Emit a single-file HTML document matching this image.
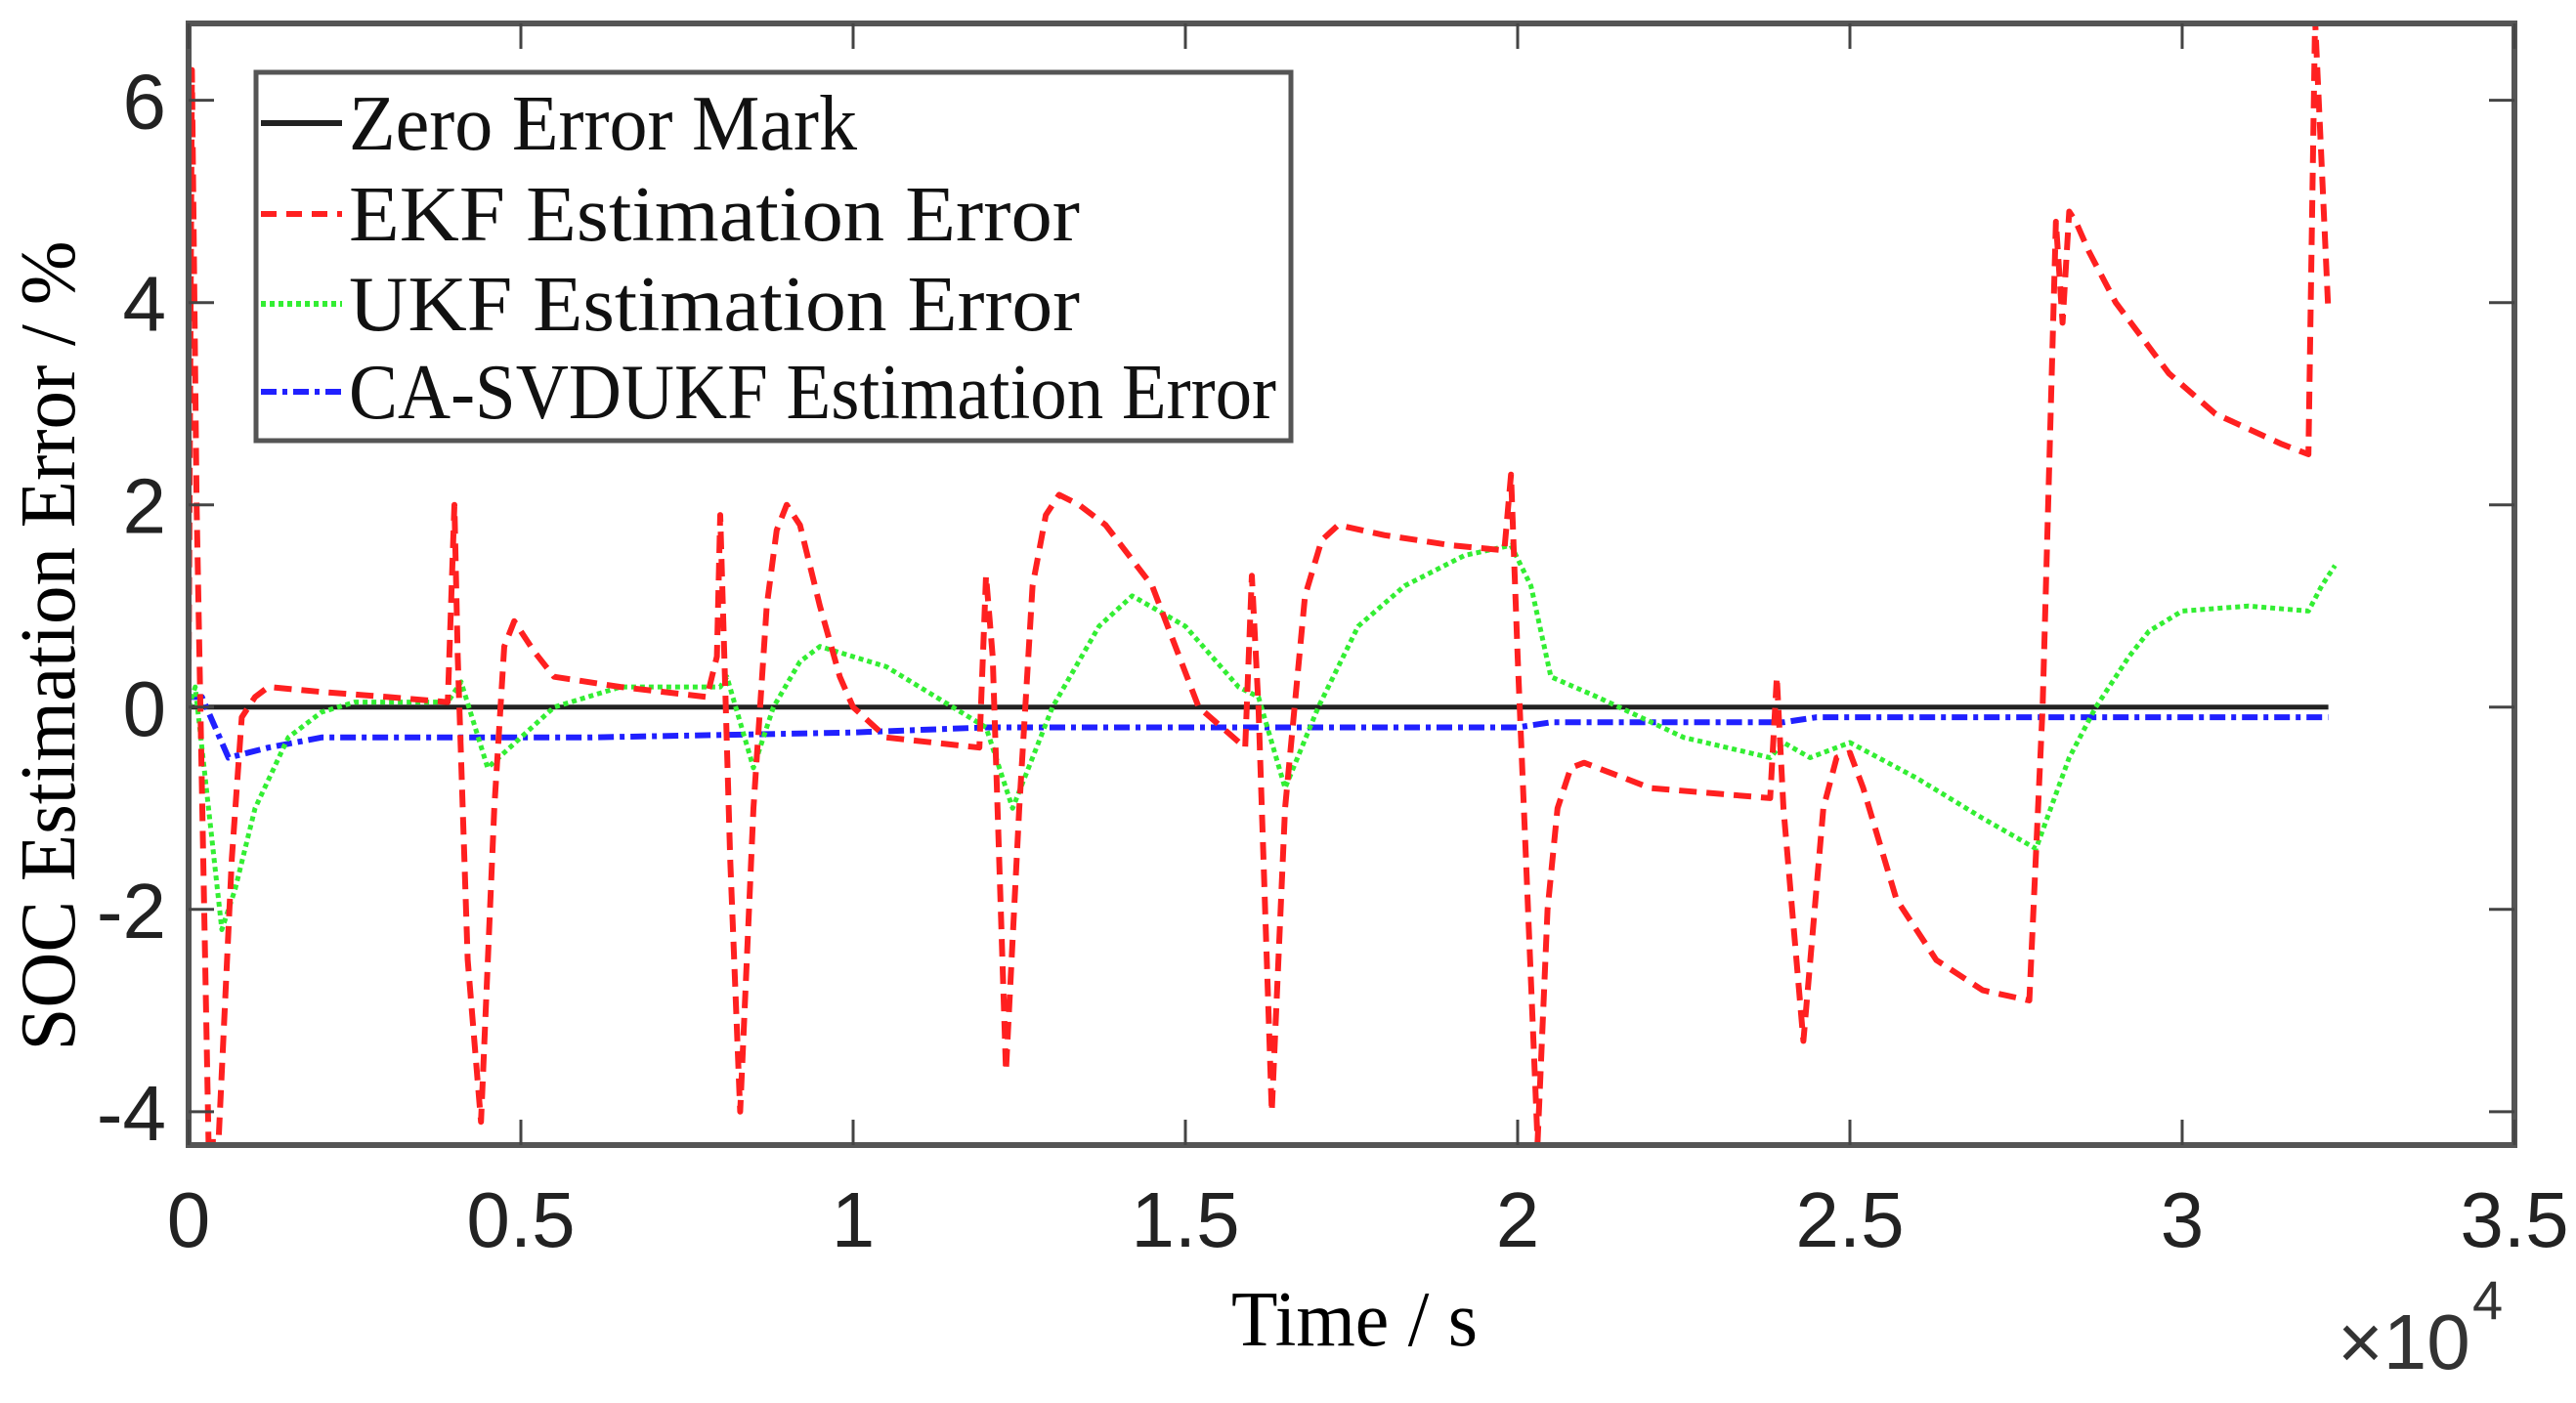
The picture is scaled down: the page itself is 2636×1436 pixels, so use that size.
<!DOCTYPE html>
<html><head><meta charset="utf-8"><style>
html,body{margin:0;padding:0;background:#fff;}
svg{display:block;}
</style></head><body>
<svg id="chart" width="2636" height="1436" viewBox="0 0 2636 1436" xmlns="http://www.w3.org/2000/svg">
<rect x="0" y="0" width="2636" height="1436" fill="#fff"/>
<g id="plot"></g>
<g id="axes"></g>
<text x="1386" y="1377" font-family="Liberation Serif, serif" font-size="80" text-anchor="middle" textLength="252" lengthAdjust="spacingAndGlyphs">Time / s</text>
<text transform="translate(76,661) rotate(-90)" font-family="Liberation Serif, serif" font-size="80" text-anchor="middle" textLength="829" lengthAdjust="spacingAndGlyphs">SOC Estimation Error / %</text>
<g>
<text x="2392" y="1401" font-family="Liberation Sans, sans-serif" font-size="80" fill="#333">×10</text>
<text x="2530" y="1350" font-family="Liberation Sans, sans-serif" font-size="56" fill="#333">4</text>
</g>
<g id="legend"></g>
</svg>
<script>
const xTicks = [0, 0.5, 1, 1.5, 2, 2.5, 3, 3.5];
const xTickLabels = ["0", "0.5", "1", "1.5", "2", "2.5", "3", "3.5"];
const yTicks = [-4, -2, 0, 2, 4, 6];
const yTickLabels = ["-4", "-2", "0", "2", "4", "6"];
const zeroX = [0, 3.22];
const zeroY = [0, 0];
const ekfX = [0,0.005,0.012,0.03,0.045,0.065,0.08,0.1,0.12,0.2,0.3,0.39,0.40,0.405,0.42,0.44,0.46,0.475,0.49,0.52,0.55,0.65,0.78,0.795,0.80,0.815,0.83,0.85,0.87,0.885,0.90,0.92,0.95,0.98,1.0,1.05,1.12,1.19,1.20,1.21,1.23,1.25,1.27,1.29,1.31,1.34,1.38,1.45,1.52,1.59,1.60,1.61,1.63,1.65,1.68,1.705,1.73,1.8,1.9,1.98,1.99,2.0,2.03,2.045,2.06,2.08,2.1,2.2,2.38,2.39,2.40,2.43,2.46,2.48,2.5,2.52,2.57,2.63,2.7,2.77,2.79,2.81,2.82,2.83,2.84,2.86,2.9,2.98,3.05,3.15,3.19,3.20,3.22];
const ekfY = [0.3,6.3,2.0,-4.3,-4.3,-1.5,-0.1,0.1,0.2,0.15,0.1,0.05,2.0,0.5,-2.5,-4.1,-1.0,0.6,0.85,0.55,0.3,0.2,0.1,0.5,1.9,-1.5,-4.0,-1.0,1.0,1.75,2.0,1.8,1.0,0.3,0,-0.3,-0.35,-0.4,1.3,0.5,-3.6,-1.0,1.2,1.9,2.1,2.0,1.8,1.2,0,-0.4,1.3,0,-4.0,-1.0,1.1,1.65,1.8,1.7,1.6,1.55,2.3,0.5,-4.3,-2.0,-1.0,-0.6,-0.55,-0.8,-0.9,0.3,-1.0,-3.3,-1.0,-0.5,-0.45,-0.8,-1.9,-2.5,-2.8,-2.9,0,4.8,3.8,4.9,4.8,4.5,4.0,3.3,2.9,2.6,2.5,6.8,3.9];
const ukfX = [0,0.01,0.03,0.05,0.07,0.1,0.15,0.2,0.25,0.39,0.41,0.45,0.5,0.55,0.65,0.8,0.81,0.85,0.88,0.92,0.95,1.05,1.15,1.2,1.24,1.3,1.37,1.42,1.5,1.58,1.61,1.65,1.7,1.76,1.83,1.92,1.99,2.02,2.05,2.12,2.25,2.38,2.4,2.44,2.5,2.6,2.7,2.78,2.83,2.87,2.92,2.95,3.0,3.1,3.19,3.21,3.23];
const ukfY = [0,0.2,-1.0,-2.2,-1.8,-1.0,-0.3,-0.05,0.05,0.05,0.25,-0.6,-0.3,0,0.2,0.2,0.3,-0.6,0,0.45,0.6,0.4,0,-0.2,-1.0,0,0.8,1.1,0.8,0.2,0.1,-0.8,0,0.8,1.2,1.5,1.6,1.2,0.3,0.1,-0.3,-0.5,-0.35,-0.5,-0.35,-0.7,-1.1,-1.4,-0.5,0,0.5,0.75,0.95,1.0,0.95,1.2,1.4];
const caX = [0,0.02,0.06,0.12,0.2,0.6,1.0,1.2,2.0,2.05,2.4,2.45,3.22];
const caY = [0.1,0.1,-0.5,-0.4,-0.3,-0.3,-0.25,-0.2,-0.2,-0.15,-0.15,-0.1,-0.1];

const L=193,R=2573,T=24,B=1172;
const xMin=0,xMax=3.5,yMin=-4.33,yMax=6.76;
const sx=v=>L+(v-xMin)/(xMax-xMin)*(R-L);
const sy=v=>B-(v-yMin)/(yMax-yMin)*(B-T);
const NS="http://www.w3.org/2000/svg";
const plot=document.getElementById('plot');
const axes=document.getElementById('axes');
const legend=document.getElementById('legend');
function mk(tag,attrs,parent){const e=document.createElementNS(NS,tag);for(const k in attrs)e.setAttribute(k,attrs[k]);parent.appendChild(e);return e;}

const defs=mk('defs',{},plot);
const cp=mk('clipPath',{id:'clip'},defs);
mk('rect',{x:L,y:T,width:R-L,height:B-T},cp);
const g=mk('g',{'clip-path':'url(#clip)'},plot);

function series(xs,ys,color,dash,w,name){
  const d=xs.map((x,i)=>(i?'L':'M')+sx(x).toFixed(1)+','+sy(ys[i]).toFixed(1)).join('');
  const p=mk('path',{d:d,fill:'none',stroke:color,'stroke-width':w,'stroke-dasharray':dash,'stroke-linejoin':'round'},g);
  
  
}
series(zeroX,zeroY,'#222','',5,'zero-error-line');
series(caX,caY,'#2020ff','16 6 5 6',6,'ca-svdukf-error-line');
series(ukfX,ukfY,'#33ee33','5 4',5,'ukf-error-line');
series(ekfX,ekfY,'#ff2020','18 10',6,'ekf-error-line');

const fr=mk('rect',{x:L,y:T,width:R-L,height:B-T,fill:'none',stroke:'#555','stroke-width':6},axes);


xTicks.forEach((t,i)=>{
  const x=sx(t);
  mk('line',{x1:x,y1:B,x2:x,y2:B-26,stroke:'#444','stroke-width':3},axes);
  mk('line',{x1:x,y1:T,x2:x,y2:T+26,stroke:'#444','stroke-width':3},axes);
  const tx=mk('text',{x:x,y:1276,'font-family':'Liberation Sans, sans-serif','font-size':80,'text-anchor':'middle',fill:'#222'},axes);
  tx.textContent=xTickLabels[i];
  
  
});
yTicks.forEach((t,i)=>{
  const y=sy(t);
  mk('line',{x1:L,y1:y,x2:L+26,y2:y,stroke:'#444','stroke-width':3},axes);
  mk('line',{x1:R,y1:y,x2:R-26,y2:y,stroke:'#444','stroke-width':3},axes);
  const tx=mk('text',{x:170,y:y+29,'font-family':'Liberation Sans, sans-serif','font-size':80,'text-anchor':'end',fill:'#222'},axes);
  tx.textContent=yTickLabels[i];
  
  
});

const lb=mk('rect',{x:262,y:74,width:1059,height:377,fill:'#fff',stroke:'#555','stroke-width':5},legend);


const legNames=["Zero Error Mark","EKF Estimation Error","UKF Estimation Error","CA-SVDUKF Estimation Error"];
const legColors=['#222','#ff2020','#33ee33','#2020ff'];
const legDash=['','16 10','5 4','16 6 5 6'];
const legBase=[153,246,338,428];
const legLen=[520,748,748,949];
legNames.forEach((n,i)=>{
  const ln=mk('line',{x1:267,y1:legBase[i]-27,x2:350,y2:legBase[i]-27,stroke:legColors[i],'stroke-width':6,'stroke-dasharray':legDash[i]},legend);
  
  
  const tx=mk('text',{x:357,y:legBase[i],'font-family':'Liberation Serif, serif','font-size':80,textLength:legLen[i],lengthAdjust:'spacingAndGlyphs',fill:'#111'},legend);
  tx.textContent=n;
  
  
});
</script>
</body></html>
